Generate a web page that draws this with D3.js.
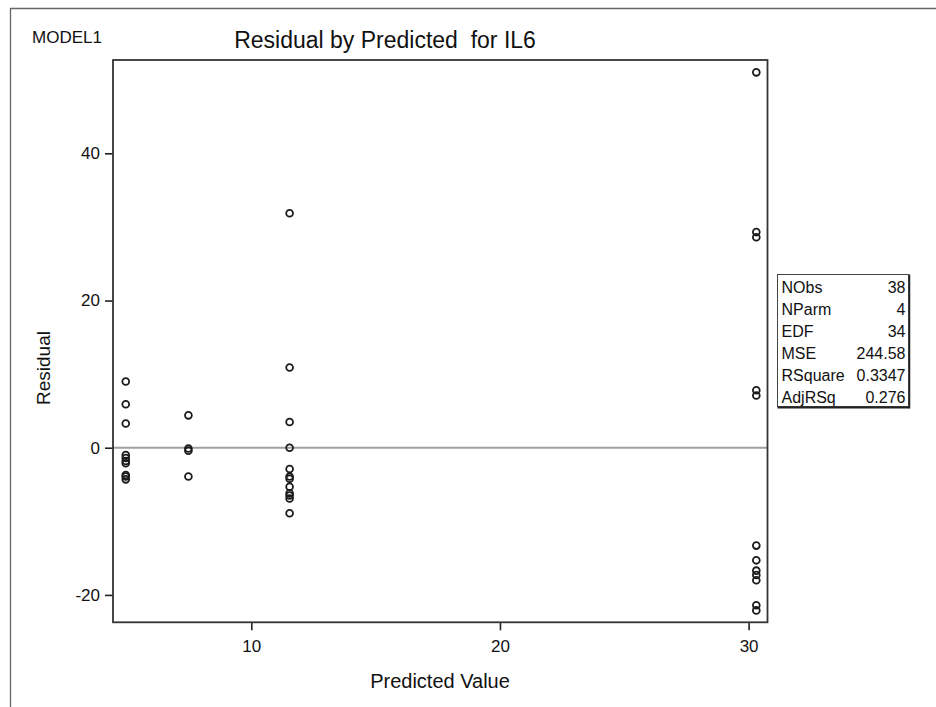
<!DOCTYPE html>
<html>
<head>
<meta charset="utf-8">
<script src="https://cdn.jsdelivr.net/npm/d3@7"></script>
<style>
  html, body { margin: 0; padding: 0; background: #fff; }
  svg text { font-family: "Liberation Sans", Arial, sans-serif; fill: #111; }
</style>
</head>
<body>
<script>
// Group predicted values (one-way model, 4 groups) and their residuals
const predicted = [4.95, 7.47, 11.54, 30.31];
const residualsByGroup = [
  [9.0, 5.9, 3.3, -1.0, -1.4, -1.8, -2.1, -3.7, -3.9, -4.3],
  [4.4, -0.1, -0.4, -3.9],
  [31.85, 10.9, 3.5, 0.0, -2.9, -3.9, -4.2, -5.3, -6.2, -6.5, -6.9, -8.9],
  [51.0, 29.3, 28.6, 7.8, 7.1, -13.3, -15.3, -16.7, -17.3, -18.0, -21.4, -22.1]
];
const xTicks = [10, 20, 30];
const yTicks = [-20, 0, 20, 40];
const statLabels = ["NObs", "NParm", "EDF", "MSE", "RSquare", "AdjRSq"];
const statValues = ["38", "4", "34", "244.58", "0.3347", "0.276"];

const W = 936, H = 707;
const svg = d3.select("body").append("svg").attr("width", W).attr("height", H);

// window frame lines
svg.append("line").attr("x1", 10).attr("x2", W).attr("y1", 8.5).attr("y2", 8.5)
  .attr("stroke", "#666").attr("stroke-width", 1.3);
svg.append("line").attr("x1", 10.5).attr("x2", 10.5).attr("y1", 8).attr("y2", H)
  .attr("stroke", "#666").attr("stroke-width", 1.3);

const plot = { left: 113, right: 767.5, top: 60, bottom: 622.3 };
const x = d3.scaleLinear().domain([4.437, 30.76]).range([plot.left, plot.right]);
const y = d3.scaleLinear().domain([-23.72, 52.68]).range([plot.bottom, plot.top]);

// zero reference line
svg.append("line")
  .attr("x1", plot.left).attr("x2", plot.right)
  .attr("y1", y(0)).attr("y2", y(0))
  .attr("stroke", "#a0a0a0").attr("stroke-width", 2);

// axes (plain hyphen for negative labels)
const fmt = d => String(d);
const xAxis = svg.append("g").attr("transform", `translate(0,${plot.bottom})`)
  .call(d3.axisBottom(x).tickValues(xTicks).tickFormat(fmt).tickSize(8).tickPadding(10));
const yAxis = svg.append("g").attr("transform", `translate(${plot.left},0)`)
  .call(d3.axisLeft(y).tickValues(yTicks).tickFormat(fmt).tickSize(8).tickPadding(5));
[xAxis, yAxis].forEach(g => {
  g.select(".domain").remove();
  g.selectAll(".tick line").attr("stroke", "#222").attr("stroke-width", 1.6);
  g.selectAll(".tick text").style("font-size", "17px")
    .style("font-family", "'Liberation Sans', Arial, sans-serif").attr("fill", "#111");
});

// plot frame
svg.append("rect")
  .attr("x", plot.left).attr("y", plot.top)
  .attr("width", plot.right - plot.left).attr("height", plot.bottom - plot.top)
  .attr("fill", "none").attr("stroke", "#333").attr("stroke-width", 1.8);

// residual points
const pts = [];
predicted.forEach((p, i) => residualsByGroup[i].forEach(r => pts.push({ p, r })));
svg.append("g").selectAll("circle").data(pts).join("circle")
  .attr("cx", d => x(d.p)).attr("cy", d => y(d.r)).attr("r", 3.4)
  .attr("fill", "none").attr("stroke", "#1a1a1a").attr("stroke-width", 1.8);

// titles
svg.append("text").attr("x", 32).attr("y", 43).style("font-size", "17px").text("MODEL1");
svg.append("text").attr("x", 385).attr("y", 48).attr("text-anchor", "middle")
  .style("font-size", "23px").style("white-space", "pre").text("Residual by Predicted  for IL6");
svg.append("text").attr("x", 440).attr("y", 688).attr("text-anchor", "middle")
  .style("font-size", "20px").text("Predicted Value");
svg.append("text").attr("transform", "translate(50,368) rotate(-90)").attr("text-anchor", "middle")
  .style("font-size", "19px").text("Residual");

// fit statistics box
const box = { x: 777.5, y: 274.5, w: 131, rowH: 22 };
const bh = box.rowH * statLabels.length;
svg.append("rect").attr("x", box.x).attr("y", box.y).attr("width", box.w).attr("height", bh)
  .attr("fill", "#fff").attr("stroke", "#444").attr("stroke-width", 1);
svg.append("line").attr("x1", box.x).attr("x2", box.x + box.w + 1)
  .attr("y1", box.y + bh + 1).attr("y2", box.y + bh + 1).attr("stroke", "#222").attr("stroke-width", 2);
svg.append("line").attr("x1", box.x + box.w + 1).attr("x2", box.x + box.w + 1)
  .attr("y1", box.y).attr("y2", box.y + bh + 2).attr("stroke", "#222").attr("stroke-width", 1.5);
const rows = svg.append("g").selectAll("g").data(statLabels).join("g")
  .attr("transform", (d, i) => `translate(0,${box.y + box.rowH * i + 18})`);
rows.append("text").attr("x", box.x + 4).style("font-size", "16px").text(d => d);
rows.append("text").attr("x", box.x + box.w - 3).attr("text-anchor", "end")
  .style("font-size", "16px").text((d, i) => statValues[i]);
</script>
</body>
</html>
